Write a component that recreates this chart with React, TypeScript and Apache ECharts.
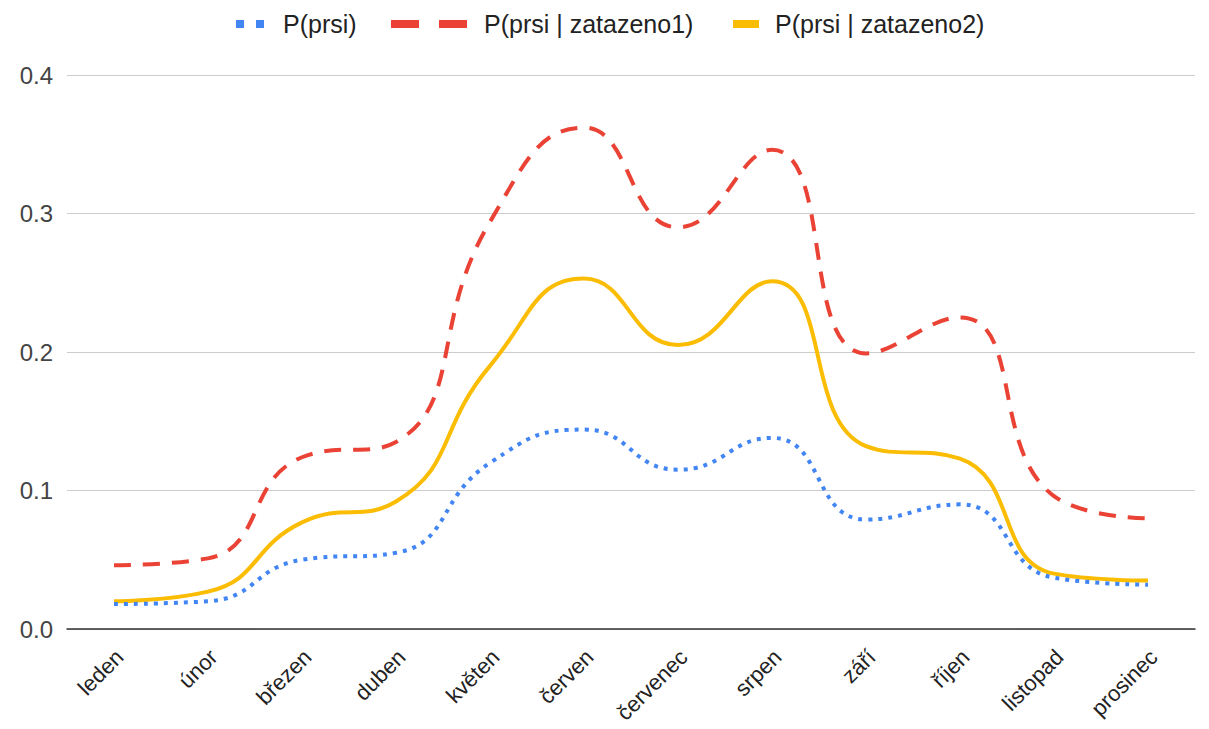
import React, { useEffect, useRef } from "react";
import * as echarts from "echarts";

const months = ["leden", "únor", "březen", "duben", "květen", "červen", "červenec", "srpen", "září", "říjen", "listopad", "prosinec"];
const pPrsi = [0.018, 0.02, 0.05, 0.055, 0.12, 0.144, 0.115, 0.138, 0.079, 0.09, 0.037, 0.032];
const pZat1 = [0.046, 0.051, 0.124, 0.135, 0.294, 0.362, 0.29, 0.346, 0.199, 0.225, 0.096, 0.08];
const pZat2 = [0.02, 0.027, 0.077, 0.092, 0.19, 0.253, 0.205, 0.251, 0.132, 0.123, 0.04, 0.035];
const seriesNames = ["P(prsi)", "P(prsi | zatazeno1)", "P(prsi | zatazeno2)"];
const colors = ["#4285f4", "#ea4335", "#fbbc04"];
const yTicks = [0, 0.1, 0.2, 0.3, 0.4];

export default function App() {
  const ref = useRef<HTMLDivElement>(null);
  useEffect(() => {
    document.body.style.margin = "0";
    const chart = echarts.init(ref.current!, undefined, { renderer: "svg" });
    const font = "'Liberation Sans', Arial, sans-serif";
    const legendFont = { fontSize: 25, fill: "#222", fontFamily: font, verticalAlign: "middle" as const };
    const ly = 24;
    chart.setOption({
      animation: false,
      backgroundColor: "#ffffff",
      textStyle: { fontFamily: font },
      graphic: [
        { type: "rect", shape: { x: 236, y: ly - 4, width: 8, height: 8 }, style: { fill: colors[0] } },
        { type: "rect", shape: { x: 256, y: ly - 4, width: 8, height: 8 }, style: { fill: colors[0] } },
        { type: "text", x: 283, y: ly, style: { text: seriesNames[0], ...legendFont } },
        { type: "rect", shape: { x: 391, y: ly - 4, width: 28, height: 8 }, style: { fill: colors[1] } },
        { type: "rect", shape: { x: 439, y: ly - 4, width: 28, height: 8 }, style: { fill: colors[1] } },
        { type: "text", x: 484, y: ly, style: { text: seriesNames[1], ...legendFont } },
        { type: "rect", shape: { x: 733, y: ly - 4, width: 26, height: 8 }, style: { fill: colors[2] } },
        { type: "text", x: 775, y: ly, style: { text: seriesNames[2], ...legendFont } },
      ],
      grid: { left: 67, right: 14, top: 75, bottom: 100, outerBoundsMode: "none", containLabel: false },
      xAxis: {
        type: "category",
        data: months,
        boundaryGap: true,
        axisTick: { show: false },
        axisLine: { lineStyle: { color: "#333", width: 1.5 } },
        axisLabel: { rotate: 45, fontSize: 22, color: "#222", margin: 30, padding: [0, -8, 0, 0], interval: 0, fontFamily: font },
      },
      yAxis: {
        type: "value",
        min: yTicks[0],
        max: yTicks[yTicks.length - 1],
        interval: 0.1,
        axisLabel: { fontSize: 24, color: "#444", margin: 14, formatter: (v: number) => v.toFixed(1), fontFamily: font },
        splitLine: { lineStyle: { color: "#cccccc", width: 1 } },
        axisLine: { show: false },
        axisTick: { show: false },
      },
      series: [
        {
          name: seriesNames[0],
          type: "line",
          data: pPrsi,
          smooth: 0.5,
          showSymbol: false,
          symbol: "none",
          itemStyle: { color: colors[0] },
          lineStyle: { color: colors[0], width: 4, type: [4, 6] },
          z: 3,
        },
        {
          name: seriesNames[1],
          type: "line",
          data: pZat1,
          smooth: 0.5,
          showSymbol: false,
          symbol: "none",
          itemStyle: { color: colors[1] },
          lineStyle: { color: colors[1], width: 4, type: [17, 12] },
          z: 2,
        },
        {
          name: seriesNames[2],
          type: "line",
          data: pZat2,
          smooth: 0.5,
          showSymbol: false,
          symbol: "none",
          itemStyle: { color: colors[2] },
          lineStyle: { color: colors[2], width: 4 },
          z: 1,
        },
      ],
    });
    return () => chart.dispose();
  }, []);
  return <div ref={ref} style={{ width: 1209, height: 729 }} />;
}
